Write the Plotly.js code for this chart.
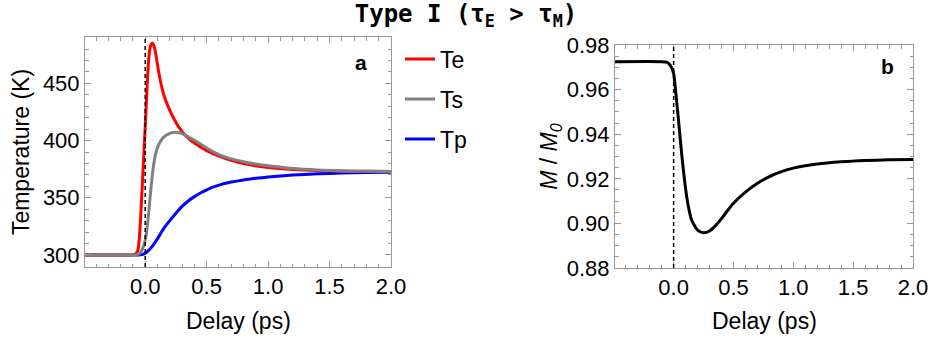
<!DOCTYPE html>
<html><head><meta charset="utf-8">
<script src="https://cdn.plot.ly/plotly-3.0.1.min.js"></script>
<style>html,body{margin:0;padding:0;background:#fff}#chart{width:932px;height:343px}</style>
</head><body><div id="chart"></div>
<script>
const delayT = [-0.49, -0.2, -0.1, -0.08, -0.06, -0.05, -0.04, -0.03, -0.02, -0.01, 0, 0.01, 0.02, 0.03, 0.04, 0.05, 0.06, 0.07, 0.08, 0.09, 0.1, 0.12, 0.15, 0.2, 0.25, 0.3, 0.35, 0.4, 0.45, 0.5, 0.6, 0.7, 0.8, 0.9, 1.0, 1.2, 1.4, 1.6, 1.8, 2.0];
const Te = [300, 300, 300.2, 300.8, 304, 312, 327, 348, 369, 391, 412, 435, 457, 473, 481, 484.5, 485, 483, 479, 473, 466, 454, 440.3, 426.3, 415.8, 407.8, 402, 397.8, 394.3, 391.2, 386.4, 382.8, 380, 378, 376.5, 374.7, 373.8, 373.3, 373.1, 372.9];
const Ts = [300, 300, 300, 300.1, 300.4, 301, 302, 303.5, 306, 309, 313, 319, 328, 339, 351, 362, 372, 380, 386, 390.5, 394, 398.5, 403, 406.3, 407.3, 406, 403.2, 400.2, 396.9, 393.5, 387.8, 384, 381.5, 379.5, 377.9, 375.5, 374.2, 373.5, 373.1, 372.9];
const Tp = [300, 300, 300, 300, 300, 300, 300.1, 300.3, 300.6, 301, 301.6, 302.3, 303.2, 304.2, 305.4, 306.7, 308, 309.5, 311, 312.6, 314.2, 317.8, 323, 330, 336.5, 342.5, 347.2, 351, 354.2, 357, 361, 363.7, 365.6, 367, 368.1, 369.8, 370.9, 371.6, 372, 372.3];
const delayM = [-0.49, -0.1, -0.06, -0.04, -0.02, 0, 0.02, 0.04, 0.06, 0.08, 0.1, 0.12, 0.15, 0.2, 0.25, 0.3, 0.35, 0.4, 0.5, 0.6, 0.7, 0.8, 0.9, 1.0, 1.2, 1.4, 1.6, 1.8, 2.0];
const M = [0.9725, 0.9725, 0.9723, 0.9717, 0.9702, 0.9672, 0.9575, 0.9465, 0.9352, 0.9245, 0.9155, 0.9085, 0.9015, 0.8970, 0.8958, 0.8966, 0.8990, 0.9022, 0.9090, 0.9140, 0.9180, 0.9210, 0.9232, 0.9248, 0.9266, 0.9276, 0.9282, 0.9285, 0.9287];
const xTickVals = [0, 0.5, 1.0, 1.5, 2.0];
const tempTickVals = [300, 350, 400, 450];
const mTickVals = [0.88, 0.90, 0.92, 0.94, 0.96, 0.98];
const seriesNames = ['Te', 'Ts', 'Tp'];
const xTitle = 'Delay (ps)';

const W = 932, H = 343;
const FONT = 'Liberation Sans, Arial, sans-serif';
const frame = '#999999';
function axisBase(extra) {
  return Object.assign({
    showline: true, linecolor: frame, linewidth: 1, mirror: 'ticks',
    ticks: 'inside', ticklen: 6, tickcolor: frame, tickwidth: 1,
    showgrid: false, zeroline: false,
    tickfont: {family: FONT, size: 22, color: '#000'}
  }, extra);
}
function minor(d) { return {ticks: 'inside', ticklen: 3.5, tickcolor: frame, tickwidth: 1, dtick: d, tick0: 0, showgrid: false}; }
function legendAt(ypx) {
  return {x: 400 / W, xanchor: 'left', y: 1 - ypx / H, yanchor: 'middle', font: {family: FONT, size: 23, color: '#000'},
          bgcolor: 'rgba(0,0,0,0)', borderwidth: 0, itemwidth: 30};
}
const lw = 3;
const sp = {shape: 'spline', smoothing: 0.6, width: lw};
const traces = [
  {x: delayT, y: Tp, name: seriesNames[2], legend: 'legend3', mode: 'lines', line: Object.assign({color: '#0000ff'}, sp), xaxis: 'x', yaxis: 'y'},
  {x: delayT, y: Te, name: seriesNames[0], legend: 'legend', mode: 'lines', line: Object.assign({color: '#ff0000'}, sp), xaxis: 'x', yaxis: 'y'},
  {x: delayT, y: Ts, name: seriesNames[1], legend: 'legend2', mode: 'lines', line: Object.assign({color: '#808080'}, sp), xaxis: 'x', yaxis: 'y'},
  {x: delayM, y: M, name: 'M', showlegend: false, mode: 'lines', line: Object.assign({color: '#000000'}, sp), xaxis: 'x2', yaxis: 'y2'}
];
const layout = {
  width: W, height: H,
  margin: {l: 0, r: 0, t: 0, b: 0},
  paper_bgcolor: '#fff', plot_bgcolor: '#fff',
  font: {family: FONT, color: '#000'},
  title: {text: 'Type I (τ<sub>E</sub> > τ<sub>M</sub>)', font: {family: 'DejaVu Sans Mono, monospace', size: 24, weight: 'bold', color: '#000'},
          x: 0.5, xanchor: 'center', xref: 'paper', yref: 'container', y: 1 - 14 / H, yanchor: 'middle'},
  showlegend: true,
  legend: legendAt(59),
  legend2: legendAt(99),
  legend3: legendAt(139),
  xaxis: axisBase({domain: [85 / W, 391 / W], range: [-0.49, 2.0], tickvals: xTickVals, tickformat: '.1f', anchor: 'y', minor: minor(0.1)}),
  yaxis: axisBase({domain: [1 - 267 / H, 1 - 37 / H], range: [289.5, 490.5], tickvals: tempTickVals, anchor: 'x', minor: minor(10),
    title: {text: 'Temperature (K)', font: {family: FONT, size: 23, color: '#000'}}}),
  xaxis2: axisBase({domain: [615 / W, 913 / W], range: [-0.49, 2.0], tickvals: xTickVals, tickformat: '.1f', anchor: 'y2', minor: minor(0.1)}),
  yaxis2: axisBase({domain: [1 - 268 / H, 1 - 45 / H], range: [0.88, 0.98], tickvals: mTickVals, tickformat: '.2f', anchor: 'x2', minor: minor(0.005),
    title: {text: '<i>M</i> / <i>M</i><sub><i>0</i></sub>', font: {family: FONT, size: 23, color: '#000'}}}),
  shapes: [
    {type: 'line', xref: 'x', yref: 'y domain', x0: 0, x1: 0, y0: 0, y1: 1, line: {color: '#000', width: 1.5, dash: '4px,3px'}},
    {type: 'line', xref: 'x2', yref: 'y2 domain', x0: 0, x1: 0, y0: 0, y1: 1, line: {color: '#000', width: 1.5, dash: '4px,3px'}}
  ],
  annotations: [
    {text: xTitle, xref: 'x domain', yref: 'paper', x: 0.5, y: 1 - 321 / H, xanchor: 'center', yanchor: 'middle', showarrow: false, font: {family: FONT, size: 23, color: '#000'}},
    {text: xTitle, xref: 'x2 domain', yref: 'paper', x: 0.5, y: 1 - 321 / H, xanchor: 'center', yanchor: 'middle', showarrow: false, font: {family: FONT, size: 23, color: '#000'}},
    {text: '<b>a</b>', xref: 'paper', yref: 'paper', x: 361 / W, y: 1 - 62 / H, xanchor: 'center', yanchor: 'middle', showarrow: false, font: {family: FONT, size: 21, color: '#000'}},
    {text: '<b>b</b>', xref: 'paper', yref: 'paper', x: 887 / W, y: 1 - 66 / H, xanchor: 'center', yanchor: 'middle', showarrow: false, font: {family: FONT, size: 21, color: '#000'}}
  ]
};
Plotly.newPlot('chart', traces, layout, {displayModeBar: false, staticPlot: true});
</script></body></html>
